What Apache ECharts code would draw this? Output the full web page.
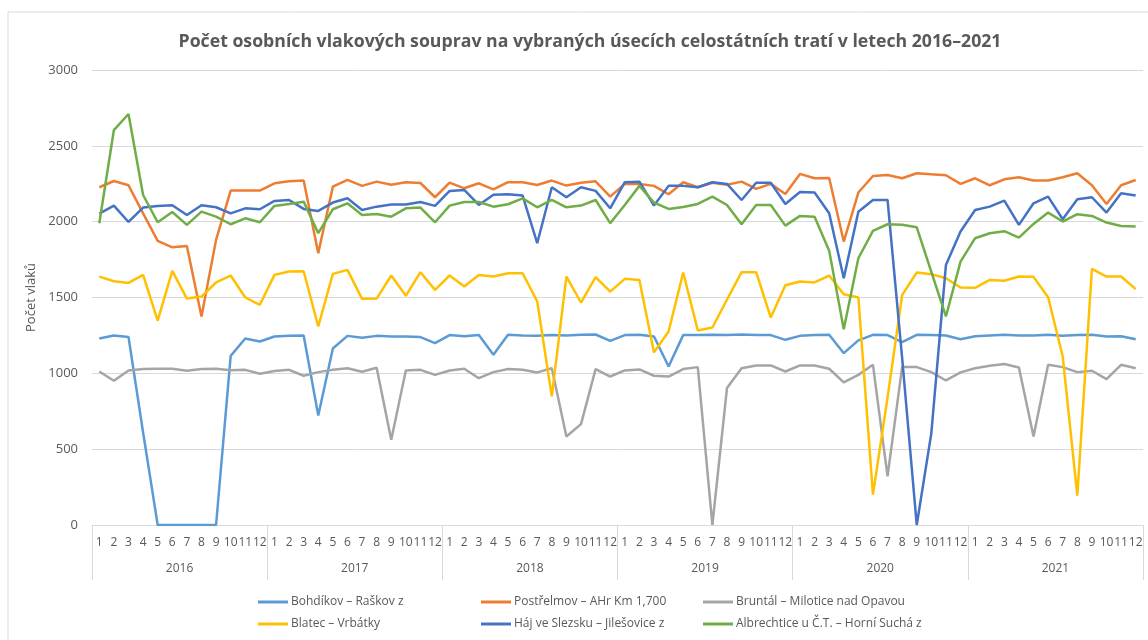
<!DOCTYPE html>
<html lang="cs">
<head>
    <meta charset="UTF-8" />
    <title>Počet osobních vlakových souprav</title>
    <script src="https://cdn.jsdelivr.net/npm/echarts@6/dist/echarts.min.js"></script>
    <style>
        html, body { margin: 0; padding: 0; background: #fff; }
        #chart { width: 1148px; height: 640px; }
    </style>
</head>
<body>
    <div id="chart"></div>
    <script>
        // roky a měsíce (dvouúrovňová osa x)
        const years = ["2016", "2017", "2018", "2019", "2020", "2021"];
        const months = ["1", "2", "3", "4", "5", "6", "7", "8", "9", "10", "11", "12"];

        // hodnoty, po měsících 2016-2021
        const bohdikov = [
            1230, 1250, 1240, 610, 0, 0, 0, 0, 0, 1115, 1230, 1210,
            1243, 1247, 1250, 722, 1164, 1247, 1234, 1247, 1243, 1243, 1239, 1199,
            1252, 1245, 1252, 1122, 1254, 1250, 1247, 1252, 1250, 1254, 1256, 1214,
            1252, 1254, 1243, 1045, 1252, 1252, 1254, 1252, 1256, 1252, 1252, 1221,
            1247, 1252, 1254, 1133, 1217, 1254, 1252, 1206, 1254, 1252, 1250, 1225,
            1245, 1250, 1254, 1250, 1250, 1254, 1247, 1252, 1254, 1243, 1245, 1225
        ];
        const postrelmov = [
            2227, 2268, 2240, 2055, 1873, 1831, 1840, 1375, 1880, 2205, 2205, 2205,
            2253, 2266, 2271, 1792, 2231, 2275, 2236, 2264, 2244, 2260, 2255, 2161,
            2257, 2220, 2253, 2213, 2260, 2260, 2242, 2271, 2238, 2257, 2266, 2165,
            2249, 2249, 2236, 2181, 2260, 2227, 2257, 2244, 2264, 2216, 2249, 2183,
            2315, 2286, 2288, 1869, 2192, 2301, 2308, 2286, 2319, 2312, 2306, 2249,
            2286, 2240, 2279, 2293, 2271, 2271, 2293, 2319, 2240, 2117, 2240, 2275
        ];
        const bruntal = [
            1012, 951, 1019, 1028, 1030, 1030, 1017, 1028, 1030, 1021, 1023, 997,
            1015, 1023, 984, 1008, 1023, 1034, 1010, 1037, 562, 1019, 1023, 990,
            1019, 1030, 968, 1008, 1028, 1023, 1006, 1034, 584, 665, 1028, 979,
            1019, 1026, 984, 979, 1028, 1041, 0, 903, 1034, 1052, 1052, 1012,
            1052, 1052, 1030, 940, 990, 1056, 321, 1041, 1041, 1008, 953, 1006,
            1034, 1050, 1061, 1039, 584, 1056, 1041, 1008, 1017, 962, 1056, 1034
        ];
        const blatec = [
            1638, 1607, 1596, 1649, 1348, 1676, 1493, 1506, 1599, 1645, 1500, 1452,
            1649, 1671, 1673, 1309, 1656, 1682, 1491, 1493, 1645, 1511, 1667, 1550,
            1645, 1572, 1649, 1638, 1660, 1660, 1474, 848, 1638, 1467, 1634, 1539,
            1623, 1616, 1138, 1276, 1665, 1283, 1302, 1485, 1667, 1667, 1368, 1581,
            1605, 1599, 1645, 1522, 1500, 200, 840, 1516, 1665, 1654, 1627, 1566,
            1564, 1616, 1610, 1638, 1636, 1502, 1111, 193, 1689, 1638, 1638, 1555
        ];
        const haj = [
            2053, 2106, 1998, 2093, 2104, 2108, 2044, 2108, 2095, 2055, 2088, 2082,
            2137, 2143, 2084, 2071, 2126, 2154, 2077, 2099, 2113, 2113, 2130, 2104,
            2203, 2209, 2110, 2178, 2181, 2172, 1858, 2227, 2161, 2227, 2203, 2088,
            2260, 2264, 2106, 2236, 2236, 2227, 2260, 2249, 2143, 2257, 2257, 2117,
            2196, 2192, 2055, 1627, 2066, 2143, 2143, 1100, 0, 606, 1715, 1935,
            2077, 2099, 2139, 1979, 2121, 2165, 2016, 2148, 2161, 2060, 2187, 2172
        ];
        const albrechtice = [
            1990, 2604, 2710, 2176, 1996, 2064, 1979, 2066, 2033, 1983, 2022, 1996,
            2104, 2117, 2132, 1924, 2082, 2121, 2044, 2051, 2033, 2088, 2093, 1996,
            2106, 2130, 2130, 2099, 2115, 2154, 2095, 2143, 2095, 2106, 2143, 1990,
            2110, 2236, 2126, 2084, 2097, 2117, 2165, 2110, 1983, 2110, 2110, 1974,
            2038, 2033, 1809, 1291, 1759, 1939, 1983, 1979, 1963, 1669, 1375, 1737,
            1891, 1924, 1937, 1895, 1985, 2060, 2001, 2049, 2038, 1994, 1972, 1968
        ];

        const names = [
            "Bohdíkov – Raškov z",
            "Postřelmov – AHr Km 1,700",
            "Bruntál – Milotice nad Opavou",
            "Blatec – Vrbátky",
            "Háj ve Slezsku – Jilešovice z",
            "Albrechtice u Č.T. – Horní Suchá z"
        ];
        const values = [bohdikov, postrelmov, bruntal, blatec, haj, albrechtice];
        const colors = ["#5B9BD5", "#ED7D31", "#A5A5A5", "#FFC000", "#4472C4", "#70AD47"];

        // popisky měsíců pro všechny roky
        const monthLabels = [];
        years.forEach(() => months.forEach(m => monthLabels.push(m)));

        const font = "'Open Sans', 'Noto Sans', sans-serif";
        const txt = "#595959";
        const grey = "#d9d9d9";

        const chart = echarts.init(document.getElementById("chart"));

        const legendCol = (left, items) => ({
            orient: "vertical",
            left: left,
            top: 591,
            itemGap: 10,
            itemWidth: 30,
            itemHeight: 3,
            icon: "rect",
            data: items,
            textStyle: { color: txt, fontSize: 12, fontFamily: font, padding: [0, 0, 0, -2] }
        });

        const option = {
            animation: false,
            color: colors,
            title: {
                text: "Počet osobních vlakových souprav na vybraných úsecích celostátních tratí v letech 2016–2021",
                left: 585,
                textAlign: "center",
                top: 28,
                textStyle: { color: txt, fontSize: 17.7, fontWeight: "bold", fontFamily: font }
            },
            legend: [
                legendCol(253, [names[0], names[3]]),
                legendCol(476, [names[1], names[4]]),
                legendCol(698, [names[2], names[5]])
            ],
            grid: { left: 92, right: 5, top: 70, bottom: 115 },
            xAxis: [
                {
                    type: "category",
                    data: monthLabels,
                    boundaryGap: true,
                    axisLine: { lineStyle: { color: grey } },
                    axisTick: { show: false },
                    axisLabel: { interval: 0, color: txt, fontSize: 12, fontFamily: font, margin: 12 }
                },
                {
                    type: "category",
                    data: years,
                    position: "bottom",
                    boundaryGap: true,
                    axisLine: { show: false },
                    axisTick: { show: true, length: 55, lineStyle: { color: grey } },
                    axisLabel: { color: txt, fontSize: 12, fontFamily: font, margin: 38 }
                }
            ],
            yAxis: {
                type: "value",
                min: 0,
                max: 3000,
                interval: 500,
                name: "Počet vlaků",
                nameLocation: "middle",
                nameGap: 52,
                nameTextStyle: { color: txt, fontSize: 13, fontFamily: font },
                axisLine: { show: false },
                axisTick: { show: false },
                axisLabel: { color: txt, fontSize: 13, fontFamily: font, margin: 14, formatter: v => String(v) },
                splitLine: { lineStyle: { color: grey } }
            },
            series: values.map((v, i) => ({
                name: names[i],
                type: "line",
                data: v,
                symbol: "none",
                lineStyle: { width: 2.5, color: colors[i] },
                itemStyle: { color: colors[i] }
            })),
            graphic: [{
                type: "rect",
                shape: { x: 8, y: 12, width: 1160, height: 660 },
                style: { fill: "none", stroke: grey, lineWidth: 1 },
                silent: true
            }]
        };

        chart.setOption(option);
    </script>
</body>
</html>
